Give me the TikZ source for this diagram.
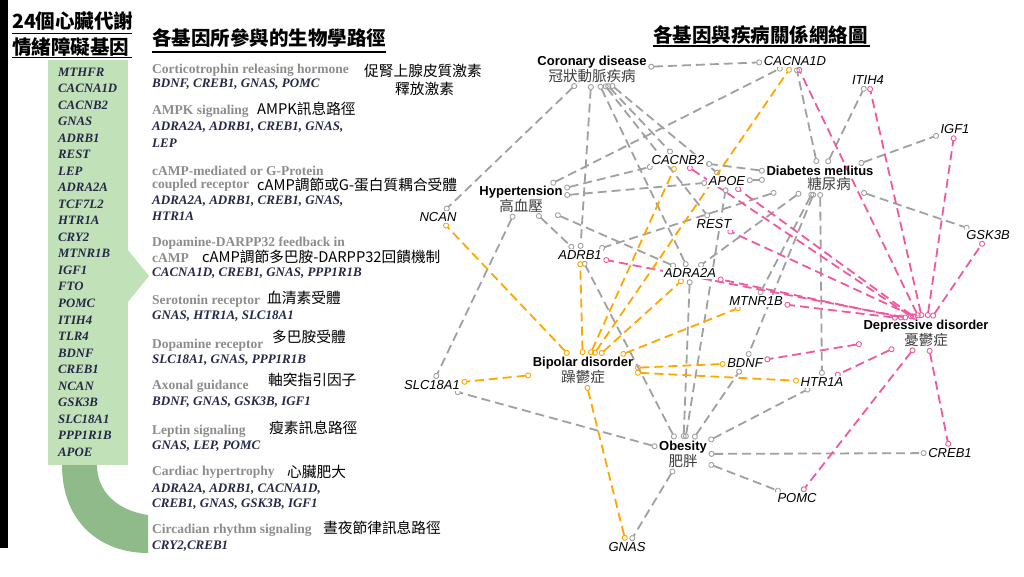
\documentclass[tikz,border=0pt]{standalone}
\usepackage{fontspec}
\setmainfont{Liberation Serif}
\setsansfont{Liberation Sans}
\newfontfamily\cjk{Noto Sans CJK TC}
\usetikzlibrary{arrows.meta,backgrounds}

\definecolor{boxgreen}{RGB}{193,225,185}
\definecolor{bandgreen}{RGB}{143,187,138}
\definecolor{genenavy}{RGB}{38,40,72}
\definecolor{pathgray}{RGB}{140,140,140}
\definecolor{zhgray}{RGB}{60,60,60}
\definecolor{edgegray}{RGB}{160,160,160}
\definecolor{edgeorange}{RGB}{255,166,0}
\definecolor{edgepink}{RGB}{240,88,160}

\newcommand{\zhline}[1]{{\cjk\mdseries\color{zhgray}\fontsize{14.5}{15}\selectfont #1}}

\tikzset{
  heading/.style={anchor=west, inner sep=0pt, font=\cjk\bfseries\fontsize{19.5}{20}\selectfont},
  boxgene/.style={anchor=west, inner sep=0pt, text=genenavy, font=\bfseries\itshape\fontsize{12.8}{13}\selectfont},
  pathtitle/.style={anchor=west, inner sep=0pt, text=pathgray, font=\bfseries\fontsize{13.5}{14}\selectfont},
  pathgenes/.style={anchor=west, inner sep=0pt, text=genenavy, font=\bfseries\itshape\fontsize{13}{14}\selectfont},
  zhnote/.style={anchor=west, inner sep=0pt, font=\cjk\fontsize{14.7}{15}\selectfont},
  gene/.style={inner sep=1.5pt, fill=white, font=\sffamily\itshape\fontsize{13}{14}\selectfont},
  disease/.style={inner sep=1.5pt, align=center, font=\sffamily\bfseries\fontsize{13}{14}\selectfont},
  link/.style={dash pattern=on 9pt off 5pt, line width=1.8pt,
    {Circle[open,length=6pt,line width=0.9pt]}-{Circle[open,length=6pt,line width=0.9pt]}},
  grayline/.style={link, edgegray},
  orangeline/.style={link, edgeorange},
  pinkline/.style={link, edgepink}
}

\begin{document}
\begin{tikzpicture}[x=1pt,y=-1pt]
  \useasboundingbox (0,0) rectangle (1024,576);

  % Left bar and gene box
  \fill[black] (0,0) rectangle (8,548);
  \node[heading] (hleft) at (12,21) {24個心臟代謝};
  \node[heading] (hleftb) at (12,47) {情緒障礙基因};
  \draw[line width=1.3pt] (12,33.5) -- (132,33.5);
  \draw[line width=1.3pt] (12,57.5) -- (132,57.5);

  \fill[bandgreen] (62,465) .. controls (62,522) and (100,553) .. (148,553)
    -- (148,515) .. controls (115,510) and (97,490) .. (97,465) -- cycle;
  \fill[boxgreen] (48,60) rectangle (128,465);
  \fill[boxgreen] (128,250) -- (149,276) -- (128,302) -- cycle;

  \foreach \g [count=\i from 0] in {MTHFR,CACNA1D,CACNB2,GNAS,ADRB1,REST,LEP,ADRA2A,
      TCF7L2,HTR1A,CRY2,MTNR1B,IGF1,FTO,POMC,ITIH4,TLR4,BDNF,CREB1,NCAN,GSK3B,
      SLC18A1,PPP1R1B,APOE}
    \node[boxgene] (g\i) at (58,72+16.52*\i) {\g};

  % Pathways
  \node[heading] (hmid) at (152,38.5) {各基因所參與的生物學路徑};
  \draw[line width=1.3pt] (152,52) -- (386,52);

  \node[pathtitle] (p1) at (152,70.7) {Corticotrophin releasing hormone};
  \node[zhnote] (p1zh) at (364,70.7) {促腎上腺皮質激素};
  \node[zhnote] (p1zhb) at (395,89) {釋放激素};
  \node[pathgenes] (p1g) at (152,84.3) {BDNF, CREB1, GNAS, POMC};

  \node[pathtitle] (p2) at (152,111.7) {AMPK signaling};
  \node[zhnote] (p2zh) at (257,109) {AMPK訊息路徑};
  \node[pathgenes] (p2g) at (152,126.7) {ADRA2A, ADRB1, CREB1, GNAS,};
  \node[pathgenes] (p2gb) at (152,143) {LEP};

  \node[pathtitle] (p3) at (152,170.7) {cAMP-mediated or G-Protein};
  \node[pathtitle] (p3b) at (152,185) {coupled receptor};
  \node[zhnote] (p3zh) at (257,185) {cAMP調節或G-蛋白質耦合受體};
  \node[pathgenes] (p3g) at (152,201) {ADRA2A, ADRB1, CREB1, GNAS,};
  \node[pathgenes] (p3gb) at (152,216) {HTR1A};

  \node[pathtitle] (p4) at (152,242.7) {Dopamine-DARPP32 feedback in};
  \node[pathtitle] (p4b) at (152,258.3) {cAMP};
  \node[zhnote] (p4zh) at (202,257) {cAMP調節多巴胺-DARPP32回饋機制};
  \node[pathgenes] (p4g) at (152,273.3) {CACNA1D, CREB1, GNAS, PPP1R1B};

  \node[pathtitle] (p5) at (152,301.7) {Serotonin receptor};
  \node[zhnote] (p5zh) at (267,298.3) {血清素受體};
  \node[pathgenes] (p5g) at (152,316) {GNAS, HTR1A, SLC18A1};

  \node[pathtitle] (p6) at (152,345) {Dopamine receptor};
  \node[zhnote] (p6zh) at (272,337.3) {多巴胺受體};
  \node[pathgenes] (p6g) at (152,360) {SLC18A1, GNAS, PPP1R1B};

  \node[pathtitle] (p7) at (152,386.7) {Axonal guidance};
  \node[zhnote] (p7zh) at (268,380) {軸突指引因子};
  \node[pathgenes] (p7g) at (152,402.3) {BDNF, GNAS, GSK3B, IGF1};

  \node[pathtitle] (p8) at (152,431) {Leptin signaling};
  \node[zhnote] (p8zh) at (269,428.3) {瘦素訊息路徑};
  \node[pathgenes] (p8g) at (152,445.7) {GNAS, LEP, POMC};

  \node[pathtitle] (p9) at (152,472.7) {Cardiac hypertrophy};
  \node[zhnote] (p9zh) at (287,471.7) {心臟肥大};
  \node[pathgenes] (p9g) at (152,489.3) {ADRA2A, ADRB1, CACNA1D,};
  \node[pathgenes] (p9gb) at (152,504) {CREB1, GNAS, GSK3B, IGF1};

  \node[pathtitle] (p10) at (152,530.7) {Circadian rhythm signaling};
  \node[zhnote] (p10zh) at (323,528.3) {晝夜節律訊息路徑};
  \node[pathgenes] (p10g) at (152,545.7) {CRY2,CREB1};

  % Network
  \node[heading] (hnet) at (653,35) {各基因與疾病關係網絡圖};
  \draw[line width=1.3pt] (653,46) -- (870,46);

  \node[disease] (cor) at (592,69) {Coronary disease\\\zhline{冠狀動脈疾病}};
  \node[disease] (dia) at (820,178) {Diabetes mellitus\\\zhline{\hspace*{18pt}糖尿病}};
  \node[disease] (hyp) at (521,199) {Hypertension\\\zhline{高血壓}};
  \node[disease] (dep) at (926,333) {Depressive disorder\\\zhline{憂鬱症}};
  \node[disease] (bip) at (583,370) {Bipolar disorder\\\zhline{躁鬱症}};
  \node[disease] (obe) at (683,454) {Obesity\\\zhline{肥胖}};

  \node[gene] (CACNA1D) at (795,61) {CACNA1D};
  \node[gene] (ITIH4) at (868,80) {ITIH4};
  \node[gene] (IGF1) at (955,129) {IGF1};
  \node[gene] (CACNB2) at (678,160) {CACNB2};
  \node[gene] (APOE) at (727,181) {APOE};
  \node[gene] (NCAN) at (438,217) {NCAN};
  \node[gene] (REST) at (714,224) {REST};
  \node[gene] (GSK3B) at (988,235) {GSK3B};
  \node[gene] (ADRB1) at (580,255) {ADRB1};
  \node[gene] (ADRA2A) at (690,273) {ADRA2A};
  \node[gene] (MTNR1B) at (756,301) {MTNR1B};
  \node[gene] (BDNF) at (745,363) {BDNF};
  \node[gene] (HTR1A) at (822,382) {HTR1A};
  \node[gene] (SLC18A1) at (432,385) {SLC18A1};
  \node[gene] (CREB1) at (950,453) {CREB1};
  \node[gene] (POMC) at (797,498) {POMC};
  \node[gene] (GNAS) at (627,547) {GNAS};

  % Links
  \begin{scope}[on background layer]
    \foreach \g in {CACNA1D,NCAN,ADRB1,CACNB2,APOE,REST,ADRA2A}
      \draw[grayline] (cor) -- (\g);
    \foreach \g in {CACNA1D,CACNB2,APOE,ADRB1,ADRA2A,SLC18A1}
      \draw[grayline] (hyp) -- (\g);
    \foreach \g in {CACNA1D,ITIH4,IGF1,GSK3B,CACNB2,APOE,ADRB1,ADRA2A,MTNR1B,BDNF,HTR1A}
      \draw[grayline] (dia) -- (\g);
    \foreach \g in {CREB1,POMC,GNAS,HTR1A,BDNF,ADRA2A,APOE,ADRB1,SLC18A1}
      \draw[grayline] (obe) -- (\g);
    \foreach \g/\a in {CACNA1D/115,ITIH4/105,IGF1/85,GSK3B/70,CACNB2/130,APOE/125,
        REST/120,ADRB1/140,ADRA2A/146,MTNR1B/152}
      \draw[pinkline] (dep.\a) -- (\g);
    \foreach \g in {BDNF,HTR1A,POMC,CREB1}
      \draw[pinkline] (dep) -- (\g);
    \foreach \g in {NCAN,ADRB1,CACNB2,CACNA1D,ADRA2A,MTNR1B,BDNF,HTR1A,SLC18A1,GNAS}
      \draw[orangeline] (bip) -- (\g);
  \end{scope}
\end{tikzpicture}
\end{document}
